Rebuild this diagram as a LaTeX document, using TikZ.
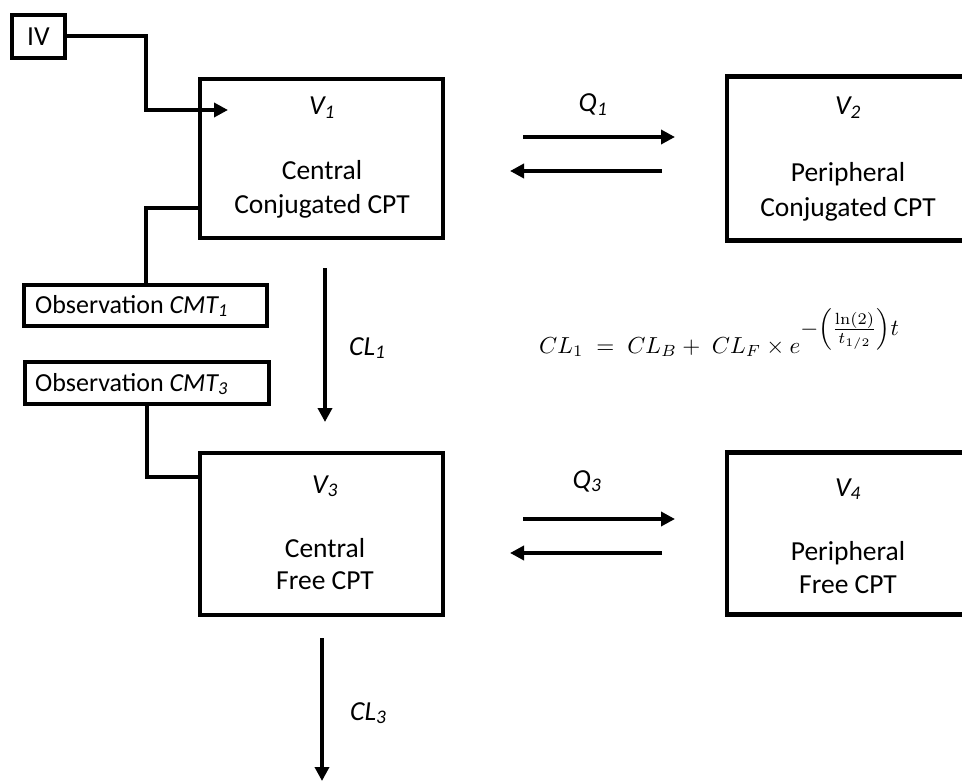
\documentclass[tikz,border=0pt]{standalone}
\usepackage{amsmath}
\usepackage{graphicx}
\usepackage[no-math]{fontspec}
\setmainfont{Carlito}
\usetikzlibrary{arrows.meta,calc}
\tikzset{
  boxnode/.style={draw,line width=4.5pt,inner sep=0pt,minimum width=243pt,minimum height=160pt},
  smallbox/.style={draw,line width=4pt,inner sep=0pt},
  conn/.style={line width=4pt},
  arr/.style={line width=4pt,-{Triangle[length=14pt,width=14pt]}},
  txt/.style={inner sep=0pt,anchor=base,font=\fontsize{27.5}{33}\selectfont},
  obstxt/.style={inner sep=0pt,anchor=base west,font=\fontsize{26}{31}\selectfont},
}
\begin{document}
\begin{tikzpicture}[x=1pt,y=-1pt]
\useasboundingbox (0,0) rectangle (962,781);
\clip (0,0) rectangle (962,781);
% boxes
\node[smallbox,minimum width=53pt,minimum height=43pt] (iv) at (38.5,36.5) {};
\node[txt] (ivt) at (38.5,46) {IV};
\node[boxnode,minimum height=159pt] (v1) at (321.5,158.5) {};
\node[boxnode,minimum height=164pt] (v2) at (848.5,158.5) {};
\node[boxnode,minimum height=162pt] (v3) at (321.5,534) {};
\node[boxnode,minimum height=162pt] (v4) at (848.5,533.5) {};
\node[smallbox,minimum width=243pt,minimum height=41pt] (obs1) at (145.5,305) {};
\node[smallbox,minimum width=244pt,minimum height=42pt] (obs3) at (147,383) {};
\node[obstxt] (obs1t) at (35,313) {Observation \textit{CMT\textsubscript{1}}};
\node[obstxt] (obs3t) at (35,391) {Observation \textit{CMT\textsubscript{3}}};
% box texts
\node[txt] (v1l) at (322,115) {\textit{V\textsubscript{1}}};
\node[txt] (v1ta) at (322,180) {Central};
\node[txt] (v1tb) at (322,214) {Conjugated CPT};
\node[txt] (v2l) at (848,115) {\textit{V\textsubscript{2}}};
\node[txt] (v2ta) at (848,182) {Peripheral};
\node[txt] (v2tb) at (848,216) {Conjugated CPT};
\node[txt] (v3l) at (325,493) {\textit{V\textsubscript{3}}};
\node[txt] (v3ta) at (325,557) {Central};
\node[txt] (v3tb) at (325,589) {Free CPT};
\node[txt] (v4l) at (848,496) {\textit{V\textsubscript{4}}};
\node[txt] (v4ta) at (848,560) {Peripheral};
\node[txt] (v4tb) at (848,593) {Free CPT};
% connector coordinates
\coordinate (ivin) at (228,110);
\coordinate (v1obs) at (198,208);
\coordinate (v3obs) at (198,477);
\coordinate (cl1a) at (325,268);
\coordinate (cl1b) at (325,422);
\coordinate (cl3a) at (322,638);
\coordinate (cl3b) at (322,781);
\coordinate (q1ra) at (523,137);
\coordinate (q1rb) at (675,137);
\coordinate (q1la) at (662,171);
\coordinate (q1lb) at (510,171);
\coordinate (q3ra) at (523,519);
\coordinate (q3rb) at (675,519);
\coordinate (q3la) at (662,553);
\coordinate (q3lb) at (510,553);
% connectors
\draw[arr] (iv.east) -- ++(79,0) |- (ivin);
\draw[conn] (v1obs) -| (obs1.north);
\draw[conn] (obs3.south) |- (v3obs);
\draw[arr] (cl1a) -- (cl1b);
\draw[arr] (cl3a) -- (cl3b);
\draw[arr] (q1ra) -- (q1rb);
\draw[arr] (q1la) -- (q1lb);
\draw[arr] (q3ra) -- (q3rb);
\draw[arr] (q3la) -- (q3lb);
% labels
\node[txt] (q1) at (593,112) {\textit{Q\textsubscript{1}}};
\node[txt] (q3) at (587,488) {\textit{Q\textsubscript{3}}};
\node[txt,anchor=base west] (cl1) at (349,355) {\textit{CL\textsubscript{1}}};
\node[txt,anchor=base west] (cl3) at (350,720) {\textit{CL\textsubscript{3}}};
\node[inner sep=0pt,anchor=base west] (eq) at (539,353) {\resizebox{361pt}{!}{$CL_1 \;=\; CL_B +\; CL_F \times e^{\textstyle -\!\left(\frac{\ln(2)}{t_{1/2}}\right)\!t}$}};
\end{tikzpicture}
\end{document}
